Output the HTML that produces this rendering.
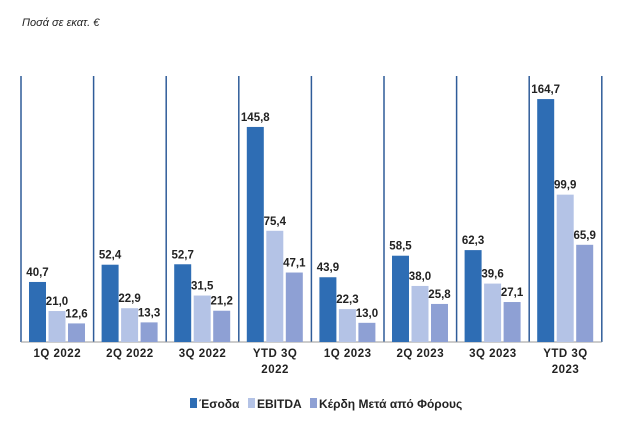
<!DOCTYPE html>
<html><head><meta charset="utf-8"><style>
body{margin:0;background:#fff;width:623px;height:423px;overflow:hidden;font-family:"Liberation Sans Narrow","Liberation Sans",sans-serif}
svg text{font-family:"Liberation Sans Narrow","Liberation Sans",sans-serif}
</style></head><body>
<svg id="chart" width="623" height="423" xmlns="http://www.w3.org/2000/svg">
<text x="22" y="26" font-size="11" font-style="italic" font-family="Liberation Sans" fill="#222">Ποσά σε εκατ. €</text>
<g id="plot"></g>
<g>
<rect x="190" y="398" width="7" height="10" fill="#2E6DB4"/>
<text x="199" y="408" font-size="12" font-weight="bold" fill="#222">Έσοδα</text>
<rect x="248" y="398" width="7" height="10" fill="#B4C3E6"/>
<text x="257" y="408" font-size="12" font-weight="bold" fill="#222">EBITDA</text>
<rect x="310" y="398" width="7" height="10" fill="#8EA0D4"/>
<text x="319" y="408" font-size="12" font-weight="bold" fill="#222">Κέρδη Μετά από Φόρους</text>
</g>
</svg>
<script>
const categories=[["1Q 2022"],["2Q 2022"],["3Q 2022"],["YTD 3Q","2022"],["1Q 2023"],["2Q 2023"],["3Q 2023"],["YTD 3Q","2023"]];
const revenue=[40.7,52.4,52.7,145.8,43.9,58.5,62.3,164.7];
const ebitda=[21.0,22.9,31.5,75.4,22.3,38.0,39.6,99.9];
const profit=[12.6,13.3,21.2,47.1,13.0,25.8,27.1,65.9];
const NS="http://www.w3.org/2000/svg";
const plotG=document.getElementById('plot');
const x0=21,catW=72.6,base=342,k=1.475,plotTop=76;
const yS=v=>base-v*k;
const xc=i=>x0+i*catW;
function mk(t,a){const e=document.createElementNS(NS,t);for(const n in a)e.setAttribute(n,a[n]);plotG.appendChild(e);return e;}
for(let i=0;i<=categories.length;i++){
  const l=mk('line',{x1:xc(i),x2:xc(i),y1:plotTop,y2:base,stroke:'#2F5C99','stroke-width':1.5});
  
  
}
const bl=mk('line',{x1:x0,x2:xc(categories.length),y1:base,y2:base,stroke:'#999','stroke-width':1});


const series=[[revenue,'#2E6DB4','revenue'],[ebitda,'#B4C3E6','ebitda'],[profit,'#8EA0D4','profit']];
categories.forEach((c,i)=>{
  series.forEach((s,j)=>{
    const v=s[0][i];const bx=xc(i)+8+j*19.5;
    const r=mk('rect',{x:bx,y:yS(v),width:17,height:v*k,fill:s[1]});
    
    
    const t=mk('text',{x:bx+8.5,y:yS(v)-6,'font-size':11.5,'font-weight':'bold','text-anchor':'middle',fill:'#222'});
    t.textContent=v.toFixed(1).replace('.',',');
    
    
  });
  c.forEach((line,li)=>{
    const t=mk('text',{x:xc(i)+catW/2,y:357+li*16,'font-size':11.5,'font-weight':'bold','text-anchor':'middle',fill:'#222','letter-spacing':'0.5'});
    t.textContent=line;
    
    
  });
});
</script>
</body></html>
